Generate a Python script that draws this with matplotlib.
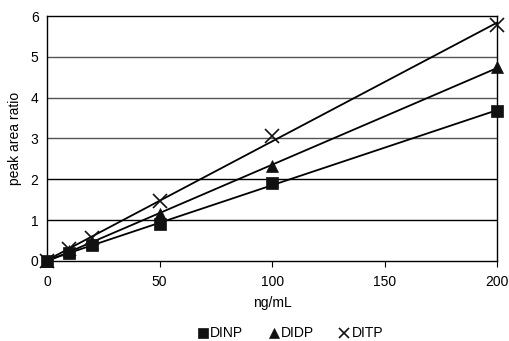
import numpy as np
import matplotlib.pyplot as plt

plt.rcParams['font.family'] = ['Liberation Sans', 'DejaVu Sans']

conc = [0, 10, 20, 50, 100, 200]  # ng/mL
dinp = [0.0, 0.20, 0.38, 0.90, 1.92, 3.67]
didp = [0.0, 0.25, 0.45, 1.15, 2.32, 4.75]
ditp = [0.0, 0.30, 0.55, 1.47, 3.06, 5.78]

series = [('DINP', dinp, 's', 9), ('DIDP', didp, '^', 9), ('DITP', ditp, 'x', 10)]

fig = plt.figure(figsize=(5.1, 3.41), dpi=100)
ax = fig.add_axes([0.092, 0.235, 0.883, 0.718])

x = np.array(conc, dtype=float)
for name, y, m, ms in series:
    # linear trendline through the calibration points
    k, b = np.polyfit(x, y, 1)
    ax.plot([x[0], x[-1]], [k * x[0] + b, k * x[-1] + b], color='black', lw=1.3, zorder=2)
    ax.plot(x, y, linestyle='none', marker=m, markersize=ms, color='#111111',
            markeredgewidth=1.2 if m == 'x' else 0.5, label=name, zorder=3, clip_on=False)

ax.set_xlim(0, 200)
ax.set_ylim(0, 6)
ax.set_xticks([0, 50, 100, 150, 200])
ax.set_yticks(range(7))
for yv in range(1, 6):
    ax.axhline(yv, color='#555555' if yv >= 3 else 'black', lw=1.0, zorder=1)
for s in ax.spines.values():
    s.set_color('black')
    s.set_linewidth(1.0)
ax.tick_params(labelsize=10, length=4, color='black', pad=6)
ax.tick_params(axis='y', length=0, pad=6)
ax.set_xlabel('ng/mL', fontsize=10, labelpad=5)
ax.set_ylabel('peak area ratio', fontsize=10, labelpad=6)

fig.legend(loc='lower center', bbox_to_anchor=(0.57, -0.035), ncol=3, frameon=False,
           fontsize=10, markerscale=0.75, handlelength=0.7, handletextpad=0.15,
           columnspacing=1.85)

fig.savefig('out.png', dpi=100)
